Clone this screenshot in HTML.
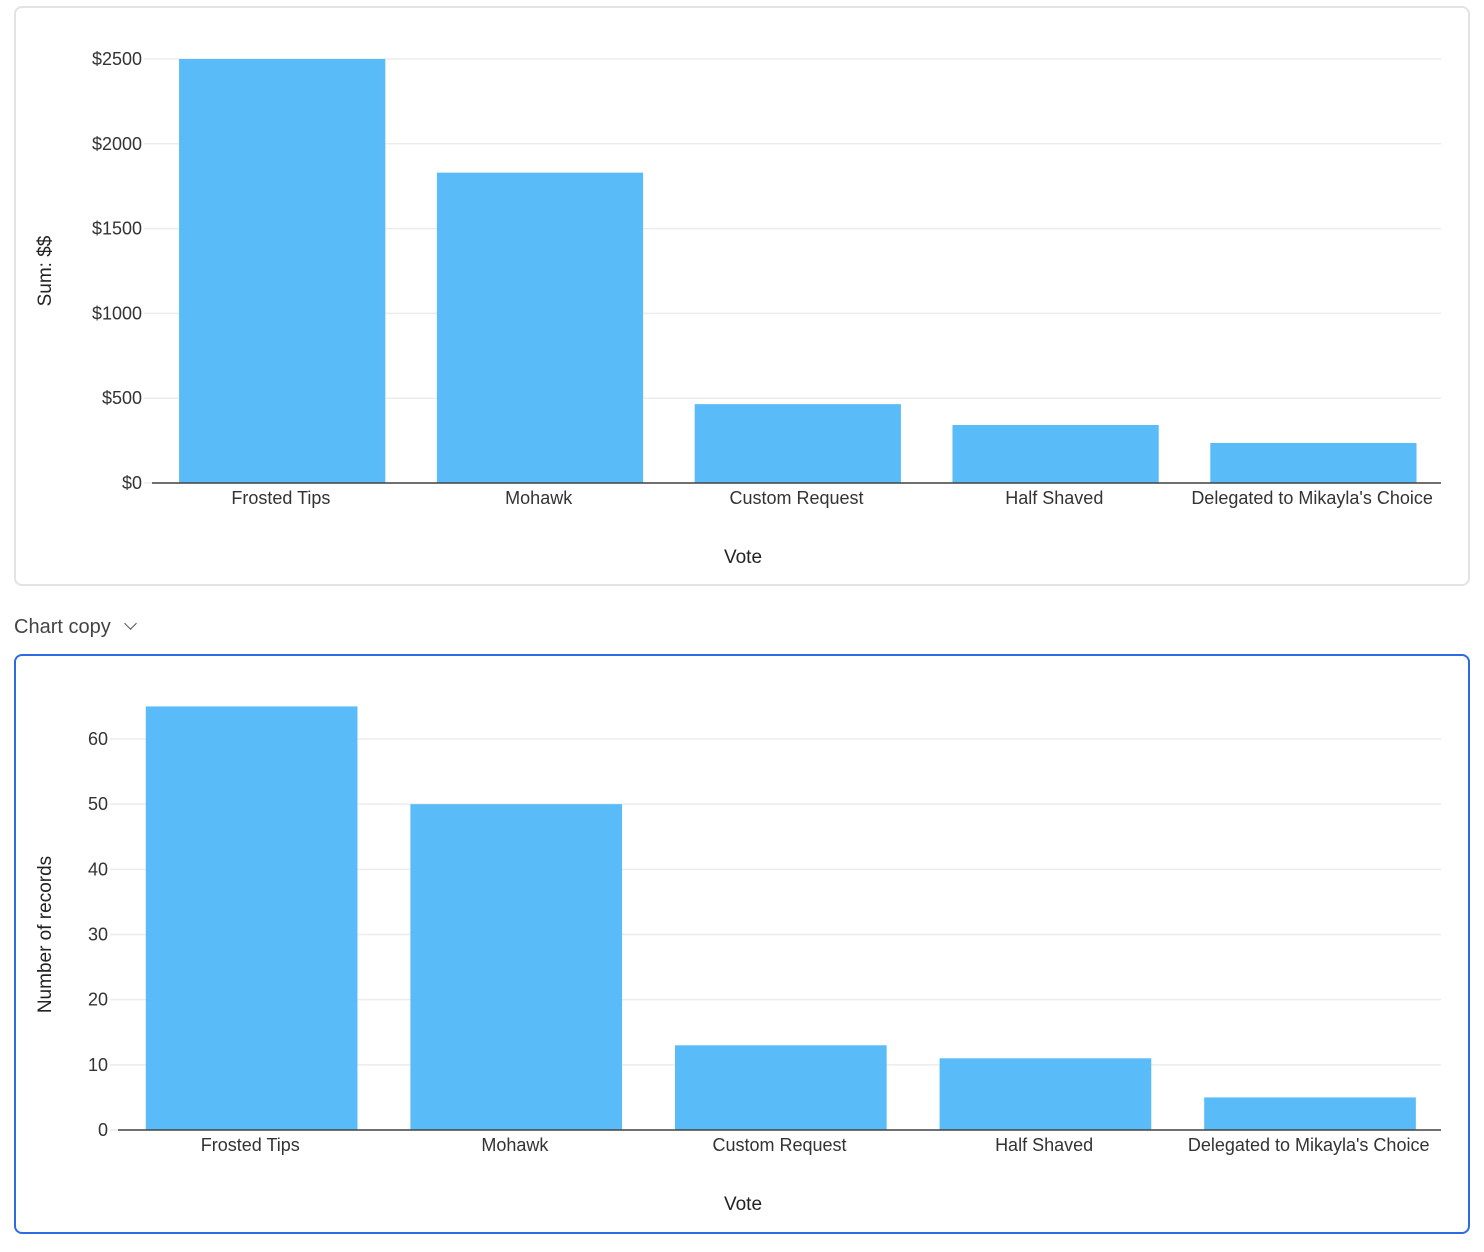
<!DOCTYPE html>
<html><head><meta charset="utf-8">
<style>
body{margin:0;width:1484px;height:1252px;background:#fff;font-family:"Liberation Sans",sans-serif;overflow:hidden;position:relative}
.card{position:absolute;left:14px;width:1456px;border-radius:8px;box-sizing:border-box}
#c1{top:6px;height:580px;border:2px solid #e3e3e3}
#c2{top:654px;height:580px;border:2px solid #2d6be0}
#title{position:absolute;left:14px;top:616px;font-size:20px;color:#444}
svg{position:absolute;left:0;top:0}
</style></head><body>
<div class="card" id="c1"></div>
<div id="title">Chart copy <span style="display:inline-block;width:8px;height:8px;border-right:1.6px solid #555;border-bottom:1.6px solid #555;transform:rotate(45deg);margin:0 0 5px 10px"></span></div>
<div class="card" id="c2"></div>
<svg id="svg" width="1484" height="1252"></svg>
<script>
const categories=["Frosted Tips","Mohawk","Custom Request","Half Shaved","Delegated to Mikayla's Choice"];
const sumValues=[2500,1830,465,342,236];
const sumTicks=[0,500,1000,1500,2000,2500];
const sumTickLabels=["$0","$500","$1000","$1500","$2000","$2500"];
const countValues=[65,50,13,11,5];
const countTicks=[0,10,20,30,40,50,60];
const countTickLabels=["0","10","20","30","40","50","60"];
const NS="http://www.w3.org/2000/svg";
const svg=document.getElementById('svg');
function mk(t,a,p){const e=document.createElementNS(NS,t);for(const k in a)e.setAttribute(k,a[k]);(p||svg).appendChild(e);return e;}
function chart(o){
  const g=mk('g',{});
  
  
  const y=v=>o.y0-(v-o.vmin)/(o.vmax-o.vmin)*(o.y0-o.y1);
  o.ticks.forEach((t,i)=>{
    const l=mk('line',{x1:o.x0-8,x2:1441,y1:y(t),y2:y(t),stroke:'#ececec','stroke-width':1.5},g);
    
    
    const tx=mk('text',{x:o.x0-10,y:y(t)+6,'text-anchor':'end','font-size':18,fill:'#333'},g);
    tx.textContent=o.tickLabels[i];
    
    
  });
  const band=(1441-o.x0)/categories.length, pad=band*0.1;
  o.values.forEach((v,i)=>{
    const bx=o.x0+band*i+pad*1.05;
    const r=mk('rect',{x:bx,y:y(v),width:band-pad*2,height:o.y0-y(v),fill:'#59bbf8'},g);
    
    
    const tx=mk('text',{x:o.x0+band*(i+0.5),y:o.y0+21,'text-anchor':'middle','font-size':18,fill:'#333'},g);
    tx.textContent=categories[i];
    
    
  });
  const ax=mk('line',{x1:o.x0,x2:1441,y1:o.y0,y2:o.y0,stroke:'#444','stroke-width':1.5},g);
  
  
  const xt=mk('text',{x:743,y:o.y0+80,'text-anchor':'middle','font-size':19,fill:'#222'},g);
  xt.textContent='Vote';
  
  
  const cy=(o.y0+o.y1)/2;
  const yt=mk('text',{x:51,y:cy,'text-anchor':'middle','font-size':19,fill:'#222',transform:`rotate(-90 51 ${cy})`},g);
  yt.textContent=o.ytitle;
  
  
}
chart({name:'sum-chart',x0:152,y0:483,y1:59,vmin:0,vmax:2500,ticks:sumTicks,tickLabels:sumTickLabels,values:sumValues,ytitle:'Sum: $$'});
chart({name:'count-chart',x0:118,y0:1130,y1:739,vmin:0,vmax:60,ticks:countTicks,tickLabels:countTickLabels,values:countValues,ytitle:'Number of records'});
</script>
</body></html>
